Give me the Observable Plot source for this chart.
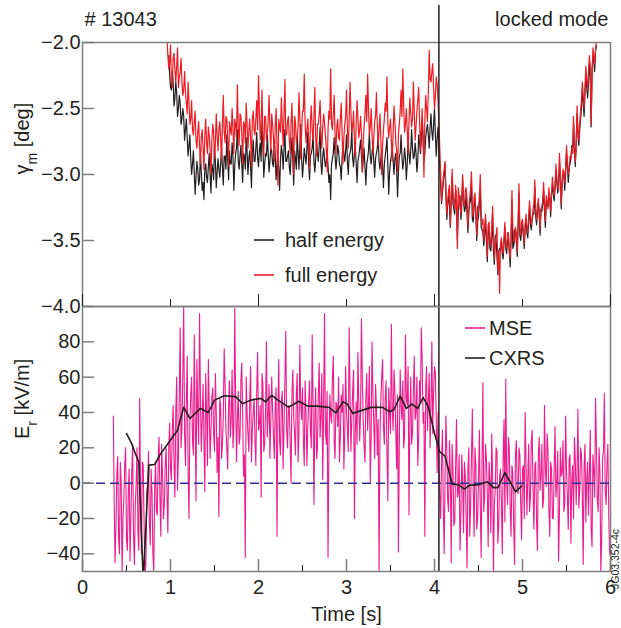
<!DOCTYPE html>
<html><head><meta charset="utf-8">
<script src="https://cdn.jsdelivr.net/npm/d3@7"></script>
<script src="https://cdn.jsdelivr.net/npm/@observablehq/plot@0.6"></script>
<style>
body{margin:0;background:#fff;}
#chart{position:relative;width:621px;height:628px;background:#fff;font-family:"Liberation Sans",Arial,Helvetica,sans-serif;color:#231f20;}
#chart svg{position:absolute;left:0;overflow:visible;}
</style></head><body><div id="chart"></div>
<script>
// ---- data ----
const shotLabel = "# 13043";
const modeLabel = "locked mode";
const lockTime = 4.05;

// gamma_m (deg), full-energy beam: samples at t = 0.96 + 0.02 i ...
const fullStart = 0.96, fullStep = 0.02;
const fullEnergy = [
 -1.96,-2.20,-2.02,-2.34,-2.08,-2.30,-2.04,-2.26,-2.12,-2.40,
 -2.22,-2.46,-2.30,-2.62,-2.44,-2.70,-2.52,-2.80,-2.60,-2.92,
 -2.66,-2.96,-2.58,-2.84,-2.70,-3.00,-2.62,-2.88,-2.54,-2.82,
 -2.60,-2.90,-2.40,-2.76,-2.58,-2.94,-2.66,-2.50,-2.84,-2.62,
 -2.32,-2.78,-2.56,-2.92,-2.62,-2.46,-2.80,-2.58,-2.94,-2.52,
 -2.70,-2.44,-2.25,-2.74,-2.36,-2.86,-2.56,-2.68,-2.40,-2.82,
 -2.62,-2.90,-2.50,-3.08,-2.64,-2.42,-2.78,-2.28,-2.70,-2.56,
 -2.84,-2.46,-3.00,-2.60,-2.72,-2.38,-2.88,-2.52,-2.24,-2.76,
 -2.58,-2.96,-2.48,-2.74,-2.34,-2.86,-2.62,-2.44,-2.80,-2.54,
 -2.70,-2.98,-2.52,-2.20,-2.66,-2.40,-2.84,-2.58,-2.74,-2.46,
 -2.92,-2.62,-2.36,-2.80,-2.30,-2.68,-2.52,-2.86,-2.44,-2.72,
 -2.56,-2.98,-2.64,-2.40,-2.24,-2.70,-2.50,-2.84,-2.60,-2.38,
 -2.78,-2.54,-3.00,-2.66,-2.46,-2.26,-2.72,-2.58,-2.90,-2.48,
 -2.76,-2.98,-2.62,-2.36,-2.20,-2.68,-2.50,-2.84,-2.42,-2.64,
 -2.30,-2.74,-2.52,-2.34,-2.82,-2.50,-3.02,-2.40,-2.60,-2.06,
 -2.30,-2.16,-2.50,-2.26,-2.44,-2.80,-3.20,-3.02,-2.90,-3.30,
 -3.12,-3.38,-2.96,-3.22,-3.08,-3.56,-3.16,-3.30,-3.00,-3.24,
 -3.10,-3.40,-3.18,-2.98,-3.32,-3.14,-3.46,-3.28,-3.00,-3.38,
 -3.50,-3.30,-3.62,-3.36,-3.54,-3.24,-3.64,-3.46,-3.72,-3.90,
 -3.48,-3.60,-3.36,-3.56,-3.44,-3.64,-3.12,-3.50,-3.40,-3.58,
 -3.07,-3.46,-3.34,-3.52,-3.30,-3.44,-3.20,-3.38,-3.26,-3.04,
 -3.34,-3.18,-3.42,-3.24,-3.06,-3.35,-3.20,-3.10,-3.28,-3.02,
 -3.16,-2.92,-3.10,-2.84,-3.22,-2.96,-3.06,-2.78,-3.00,-2.86,
 -2.80,-2.56,-2.90,-2.48,-2.74,-2.52,-2.30,-2.50,-2.18,-2.36,
 -2.10,-2.62,-2.04,-2.16,-1.98,-1.96
];
// ... and the samples in between, at t = 0.97 + 0.02 i
const fullStartB = 0.97;
const fullEnergyB = [
 -2.10,-2.16,-2.28,-2.12,-2.20,-2.18,-2.34,-2.22,-2.30,-2.36,
 -2.38,-2.54,-2.44,-2.58,-2.66,-2.60,-2.74,-2.68,-2.78,-2.72,
 -2.80,-2.70,-2.76,-2.64,-2.82,-2.74,-2.68,-2.76,-2.70,-2.66,
 -2.72,-2.62,-2.68,-2.56,-2.74,-2.60,-2.70,-2.66,-2.58,-2.72,
 -2.64,-2.54,-2.70,-2.60,-2.76,-2.62,-2.68,-2.72,-2.58,-2.66,
 -2.58,-2.66,-2.52,-2.62,-2.70,-2.56,-2.74,-2.60,-2.66,-2.54,
 -2.72,-2.64,-2.78,-2.58,-2.68,-2.62,-2.54,-2.70,-2.60,-2.74,
 -2.62,-2.70,-2.56,-2.76,-2.64,-2.58,-2.68,-2.52,-2.62,-2.66,
 -2.74,-2.60,-2.66,-2.56,-2.72,-2.62,-2.54,-2.70,-2.64,-2.60,
 -2.80,-2.66,-2.58,-2.62,-2.54,-2.70,-2.64,-2.72,-2.58,-2.68,
 -2.72,-2.56,-2.66,-2.60,-2.52,-2.64,-2.74,-2.62,-2.58,-2.66,
 -2.70,-2.76,-2.54,-2.60,-2.50,-2.64,-2.68,-2.72,-2.56,-2.62,
 -2.66,-2.72,-2.78,-2.58,-2.52,-2.62,-2.64,-2.74,-2.68,-2.60,
 -2.82,-2.70,-2.52,-2.56,-2.48,-2.62,-2.66,-2.60,-2.54,-2.58,
 -2.52,-2.64,-2.44,-2.58,-2.66,-2.72,-2.60,-2.50,-2.36,-2.28,
 -2.22,-2.36,-2.40,-2.32,-2.62,-3.00,-3.12,-2.96,-3.14,-3.20,
 -3.08,-3.20,-3.14,-3.26,-3.18,-3.10,-3.24,-3.16,-3.22,-3.12,
 -3.20,-3.26,-3.10,-3.22,-3.18,-3.30,-3.24,-3.16,-3.28,-3.34,
 -3.40,-3.46,-3.38,-3.50,-3.42,-3.48,-3.54,-3.40,-3.58,-3.52,
 -3.56,-3.48,-3.54,-3.44,-3.58,-3.46,-3.40,-3.52,-3.44,-3.36,
 -3.40,-3.36,-3.44,-3.38,-3.40,-3.32,-3.30,-3.34,-3.22,-3.28,
 -3.24,-3.30,-3.26,-3.20,-3.22,-3.16,-3.26,-3.18,-3.14,-3.10,
 -3.08,-3.02,-3.12,-2.98,-3.06,-3.00,-2.94,-2.90,-2.96,-2.88,
 -2.84,-2.76,-2.82,-2.66,-2.62,-2.44,-2.40,-2.34,-2.28,-2.22,
 -2.18,-2.30,-2.10,-2.06,-2.00
];

// gamma_m (deg), half-energy beam: samples at t = 0.98 + 0.02 i ...
const halfStart = 0.98, halfStep = 0.02;
const halfEnergy = [
 -2.10,-2.34,-2.22,-2.48,-2.30,-2.56,-2.40,-2.62,-2.50,-2.74,
 -2.58,-2.86,-2.70,-3.00,-2.82,-3.15,-2.90,-3.08,-2.84,-3.12,
 -3.19,-2.92,-3.06,-2.84,-3.14,-2.96,-2.78,-3.10,-2.88,-3.02,
 -2.80,-3.08,-2.86,-2.70,-3.04,-2.92,-2.76,-3.12,-2.84,-2.66,
 -2.96,-2.78,-3.06,-2.86,-2.72,-3.00,-2.82,-3.10,-2.74,-2.90,
 -2.68,-2.94,-2.76,-2.60,-3.02,-2.84,-2.70,-2.98,-2.80,-2.92,
 -2.74,-3.04,-2.86,-3.12,-2.78,-2.96,-2.66,-2.90,-2.82,-3.00,
 -2.72,-3.08,-2.88,-2.70,-2.96,-2.62,-3.02,-2.80,-2.92,-2.68,
 -3.04,-2.84,-2.70,-2.98,-2.76,-2.90,-2.64,-3.00,-2.80,-2.94,
 -2.82,-3.06,-3.19,-2.88,-2.72,-2.96,-2.78,-2.92,-3.04,-2.76,
 -2.90,-2.70,-3.00,-2.84,-2.66,-2.94,-2.78,-3.06,-2.86,-2.74,
 -2.98,-2.80,-3.08,-2.88,-2.68,-2.92,-2.76,-3.02,-2.84,-2.70,
 -2.96,-2.82,-3.10,-2.86,-2.72,-3.15,-2.90,-2.78,-3.00,-2.84,
 -3.17,-2.86,-2.70,-2.96,-2.80,-3.04,-2.74,-2.92,-2.66,-2.88,
 -2.76,-2.98,-2.70,-2.84,-2.58,-2.90,-2.72,-2.62,-2.80,-2.54,
 -2.74,-2.50,-2.86,-2.64,-2.92,-3.22,-3.06,-2.92,-3.34,-3.16,
 -3.40,-3.02,-3.26,-3.12,-3.50,-3.20,-3.34,-3.04,-3.28,-3.14,
 -3.44,-3.22,-3.06,-3.36,-3.18,-3.50,-3.32,-3.10,-3.42,-3.54,
 -3.34,-3.66,-3.40,-3.58,-3.30,-3.68,-3.50,-3.76,-3.56,-3.52,
 -3.64,-3.40,-3.60,-3.48,-3.70,-3.20,-3.54,-3.44,-3.62,-3.14,
 -3.50,-3.38,-3.56,-3.34,-3.48,-3.24,-3.42,-3.30,-3.10,-3.38,
 -3.22,-3.46,-3.28,-3.12,-3.40,-3.24,-3.16,-3.32,-3.08,-3.20,
 -2.98,-3.14,-2.90,-3.26,-3.00,-3.12,-2.84,-3.06,-2.92,-2.78,
 -2.62,-2.94,-2.54,-2.78,-2.58,-2.36,-2.56,-2.24,-2.42,-2.16,
 -2.64,-2.10,-2.22,-2.02
];
// ... and the samples in between, at t = 0.99 + 0.02 i
const halfStartB = 0.99;
const halfEnergyB = [
 -2.24,-2.36,-2.30,-2.42,-2.38,-2.50,-2.46,-2.58,-2.56,-2.66,
 -2.72,-2.78,-2.88,-2.92,-2.98,-3.02,-2.96,-3.04,-2.98,-3.06,
 -2.96,-3.02,-2.94,-3.00,-2.92,-3.04,-2.90,-2.98,-2.96,-2.92,
 -2.94,-2.86,-2.96,-2.88,-2.82,-2.92,-2.86,-2.94,-2.80,-2.90,
 -2.86,-2.92,-2.84,-2.96,-2.82,-2.88,-2.94,-2.84,-2.90,-2.80,
 -2.88,-2.82,-2.90,-2.78,-2.92,-2.86,-2.84,-2.90,-2.82,-2.94,
 -2.86,-2.92,-2.96,-2.88,-2.84,-2.80,-2.90,-2.86,-2.94,-2.84,
 -2.90,-2.82,-2.96,-2.84,-2.78,-2.88,-2.92,-2.86,-2.80,-2.92,
 -2.86,-2.80,-2.90,-2.88,-2.84,-2.78,-2.92,-2.86,-2.88,-2.90,
 -2.94,-3.00,-2.92,-2.84,-2.86,-2.88,-2.82,-2.94,-2.88,-2.84,
 -2.82,-2.90,-2.86,-2.80,-2.88,-2.84,-2.92,-2.90,-2.80,-2.86,
 -2.90,-2.94,-2.92,-2.82,-2.86,-2.84,-2.90,-2.88,-2.80,-2.90,
 -2.88,-2.94,-2.92,-2.80,-2.94,-2.98,-2.86,-2.90,-2.88,-2.96,
 -2.98,-2.84,-2.86,-2.90,-2.88,-2.92,-2.84,-2.82,-2.80,-2.86,
 -2.84,-2.90,-2.76,-2.74,-2.72,-2.84,-2.66,-2.70,-2.64,-2.68,
 -2.62,-2.70,-2.72,-2.80,-3.08,-3.14,-3.00,-3.16,-3.22,-3.24,
 -3.18,-3.22,-3.30,-3.20,-3.28,-3.16,-3.24,-3.20,-3.26,-3.30,
 -3.28,-3.20,-3.34,-3.24,-3.30,-3.36,-3.22,-3.40,-3.44,-3.46,
 -3.50,-3.44,-3.56,-3.48,-3.58,-3.46,-3.62,-3.58,-3.56,-3.60,
 -3.52,-3.56,-3.50,-3.58,-3.48,-3.56,-3.42,-3.50,-3.40,-3.46,
 -3.42,-3.46,-3.40,-3.44,-3.36,-3.38,-3.34,-3.30,-3.32,-3.28,
 -3.30,-3.26,-3.22,-3.28,-3.20,-3.24,-3.18,-3.14,-3.16,-3.10,
 -3.06,-3.10,-3.02,-3.08,-2.98,-3.00,-2.92,-2.96,-2.88,-2.84,
 -2.80,-2.74,-2.70,-2.66,-2.50,-2.46,-2.38,-2.34,-2.30,-2.26,
 -2.20,-2.14,-2.06
];

// E_r (kV/m) from MSE: samples at t = 0.35 + 0.02 i ...
const mseStart = 0.35, mseStep = 0.02;
const mseEr = [
 38,-45,5,-30,12,-50,-8,20,-38,8,
 -20,22,-46,0,-28,48,-40,10,-52,-5,
 18,-35,-6,-50,12,-18,26,-30,4,-12,
 20,-28,34,2,44,-8,60,16,88,30,
 100,10,72,-20,50,24,84,-10,42,96,
 18,56,-5,40,70,14,48,28,62,6,
 -19,44,22,76,30,8,58,36,20,99,
 12,52,26,68,4,-42,40,18,66,30,
 48,10,74,34,-8,56,22,80,38,14,
 60,26,44,-30,70,16,52,32,86,20,
 42,0,64,28,50,12,78,36,24,58,
 10,46,30,84,-12,54,20,68,38,2,
 96,22,-42,50,34,72,14,44,60,26,
 40,8,66,30,88,18,52,-20,46,74,
 24,93,36,12,62,44,0,80,34,56,
 16,-50,48,70,22,58,-10,40,90,30,
 52,8,-39,64,36,20,84,44,-18,60,
 28,72,40,10,58,88,34,-30,66,46,
 20,80,52,62,6,12,-20,30,-40,38,
 -10,24,-45,8,-22,36,-6,-38,16,-28,
 4,-48,20,-14,42,-30,10,-20,30,-42,
 57,-8,14,-36,2,28,-50,-4,18,-24,
 8,-40,36,59,-12,20,-30,6,-46,24,
 -6,16,-32,10,40,-18,22,-8,30,-26,
 12,-38,26,4,-14,44,-2,18,-30,8,
 -20,32,0,-44,20,6,-16,38,-8,14,
 -34,10,26,-12,42,-4,16,-46,22,2,
 -18,30,-36,8,48,-10,20,-50,14,51,
 -12,22,-40
];
// ... and the samples in between, at t = 0.36 + 0.02 i
const mseStartB = 0.36;
const mseErB = [
 -10,-25,15,-40,0,-20,10,-32,-5,-44,
 6,-30,-12,20,-38,-8,12,-24,-46,0,
 -22,8,-40,-4,-16,14,-8,22,-20,10,
 -6,18,8,30,12,40,-4,52,20,62,
 28,46,6,34,60,16,38,70,22,50,
 36,24,62,10,44,30,54,18,40,26,
 48,14,38,56,20,42,26,64,32,50,
 36,22,58,40,16,60,28,46,12,40,
 24,52,30,44,62,18,40,26,56,36,
 42,14,54,34,24,46,8,58,30,44,
 22,50,38,16,62,28,44,54,10,40,
 32,58,20,46,36,14,50,26,62,42,
 30,52,18,38,60,24,46,32,12,50,
 56,28,42,18,52,36,64,30,22,46,
 40,58,20,48,30,66,26,52,14,44,
 36,24,60,32,48,16,54,28,42,64,
 30,50,20,44,58,26,48,66,34,22,
 52,36,60,24,46,70,40,54,30,62,
 44,28,66,36,40,-6,14,-14,4,18,
 -16,6,22,-24,10,-8,16,-18,2,12,
 -20,8,-30,14,-4,20,-26,0,-12,10,
 -16,22,-6,12,-28,6,-12,20,-34,4,
 -10,14,-22,2,26,-14,10,-24,16,-4,
 20,-12,8,-20,14,2,-16,24,-6,10,
 -22,16,-4,22,-10,8,28,-14,12,-20,
 10,-8,18,-16,4,24,-12,8,-26,16,
 2,-20,14,6,-14,20,-6,10,-22,12,
 4,-26,16,-8,22,-16,6,-32,18,-4,
 10,-18
];

// E_r (kV/m) from CXRS
const cxrsTime = [0.50,0.55,0.60,0.64,0.69,0.755,0.82,0.88,1.00,1.08,
 1.15,1.22,1.34,1.43,1.50,1.61,1.74,1.82,1.91,2.03,
 2.08,2.15,2.25,2.34,2.46,2.56,2.67,2.80,2.88,2.96,
 3.01,3.07,3.28,3.41,3.49,3.54,3.61,3.68,3.74,3.81,
 3.87,3.93,4.00,4.06,4.12,4.20,4.27,4.34,4.40,4.51,
 4.60,4.67,4.72,4.80,4.86,4.92,4.99];
const cxrsEr = [28,23.4,16.8,12,-55,10.2,10.6,16,24.4,30,
 43,36.6,42.3,40,47,49.5,49,45,47,48,
 46,49.7,46,43,46.4,43.6,43.6,42.9,39.8,46,
 44.8,39.5,42.9,42.9,40.4,41.7,49.3,42.3,44.8,42.3,
 48.5,43.2,28.1,17.7,15.3,-0.6,-0.8,-3.4,-1.1,-0.8,
 0.8,-2.5,-2.5,5.9,0.8,-4.9,-1.7];

const gammaTicks = [-2.0,-2.5,-3.0,-3.5,-4.0];
const erTicks = [80,60,40,20,0,-20,-40];
const timeTicks = [0,1,2,3,4,5,6];
const timeMinorTicks = [0.5,1.5,2.5,3.5,4.5,5.5];
const topLongTicks = [0,2,4,6];
const topShortTicks = [1,3,5];
const gammaTitle = "γm [deg]";
const erTitle = "Er [kV/m]";
const timeTitle = "Time [s]";
const legendTop = [["half energy","#231f20"],["full energy","#ed1c24"]];
const legendBottom = [["MSE","#ec1c8c"],["CXRS","#231f20"]];
const figCode = "JG03.352-4c";

// ---- build ----
function series(a, startA, b, startB, step) {
  const rows = a.map((v,i)=>({t: startA + i*step, v}))
    .concat(b.map((v,i)=>({t: startB + i*step, v})));
  return rows.sort((p,q)=>p.t-q.t);
}
const fullData = series(fullEnergy, fullStart, fullEnergyB, fullStartB, fullStep);
const halfData = series(halfEnergy, halfStart, halfEnergyB, halfStartB, halfStep);
const mseData = series(mseEr, mseStart, mseErB, mseStartB, mseStep);
const cxrsData = cxrsTime.map((t,i)=>({t, v: cxrsEr[i]}));

const ink = "#231f20", gray = "#7d7d7d";
const font = '"Liberation Sans", Arial, Helvetica, sans-serif';
const common = {width: 621, marginLeft: 82, marginRight: 11,
  style: {background: "transparent", fontFamily: font, fontSize: "20px", color: ink, overflow: "visible"}};

const topPlot = Plot.plot({
  ...common, height: 306, marginTop: 42, marginBottom: 0,
  x: {domain: [0, 6]},
  y: {domain: [-4, -2], label: null},
  marks: [
    Plot.lineY(halfData, {x: "t", y: "v", stroke: ink, strokeWidth: 1.2, clip: true}),
    Plot.lineY(fullData, {x: "t", y: "v", stroke: "#ed1c24", strokeWidth: 1.2, clip: true}),
    Plot.frame({stroke: gray, strokeWidth: 1.5}),
    Plot.axisY(gammaTicks, {tickSize: -12, tickPadding: 14, tickFormat: d3.format(".1f"), stroke: gray, strokeWidth: 1.5, fill: ink, fontSize: 20, label: null}),
    Plot.axisX(topLongTicks, {tickSize: -12, tickFormat: () => "", stroke: ink, strokeWidth: 1, label: null}),
    Plot.axisX(topShortTicks, {tickSize: -7, tickFormat: () => "", stroke: ink, strokeWidth: 1, label: null}),
    Plot.ruleX([lockTime], {stroke: ink, strokeWidth: 1.5, insetTop: -37}),
    Plot.text([gammaTitle], {frameAnchor: "left", dx: -60, rotate: -90, fontSize: 20, fill: ink}),
    Plot.text([shotLabel], {frameAnchor: "top-left", textAnchor: "start", dx: 2, dy: -31, fontSize: 20, fill: ink}),
    Plot.text([modeLabel], {frameAnchor: "top-right", textAnchor: "end", dx: -2, dy: -31, fontSize: 20, fill: ink})
  ]
});
topPlot.style.top = "0px";

const botPlot = Plot.plot({
  ...common, height: 322, marginTop: 0, marginBottom: 57,
  x: {domain: [0, 6], label: null},
  y: {domain: [-50, 100], label: null},
  marks: [
    Plot.lineY(mseData, {x: "t", y: "v", stroke: "#ec1c8c", strokeWidth: 1.1, clip: true}),
    Plot.ruleY([0], {stroke: "#2e3192", strokeWidth: 1.5, strokeDasharray: "9,5"}),
    Plot.line(cxrsData, {x: "t", y: "v", stroke: ink, strokeWidth: 1.6, clip: true}),
    Plot.ruleX([lockTime], {stroke: ink, strokeWidth: 1.5}),
    Plot.frame({stroke: gray, strokeWidth: 1.5}),
    Plot.axisY(erTicks, {tickSize: -12, tickPadding: 14, stroke: gray, strokeWidth: 1.5, fill: ink, fontSize: 20, label: null}),
    Plot.axisX(timeTicks, {tickSize: -12, tickPadding: 20, tickFormat: d => String(d), stroke: gray, strokeWidth: 1.5, fill: ink, fontSize: 20, label: null}),
    Plot.axisX(timeMinorTicks, {tickSize: -6, tickFormat: () => "", stroke: ink, strokeWidth: 1, label: null}),
    Plot.text([timeTitle], {frameAnchor: "bottom", dy: 49, fontSize: 20, fill: ink}),
    Plot.text([erTitle], {frameAnchor: "left", dx: -60, rotate: -90, fontSize: 20, fill: ink})
  ]
});
botPlot.style.top = "306px";

const chart = document.getElementById("chart");
chart.appendChild(botPlot);
chart.appendChild(topPlot);

// subscripts in the axis titles
function subscript(svg, full, base, sub, rest) {
  svg.querySelectorAll("text").forEach(t => {
    if (t.textContent === full) {
      t.textContent = "";
      const ns = "http://www.w3.org/2000/svg";
      const a = document.createElementNS(ns, "tspan"); a.textContent = base;
      const b = document.createElementNS(ns, "tspan"); b.textContent = sub;
      b.setAttribute("baseline-shift", "sub"); b.setAttribute("font-size", "14");
      const c = document.createElementNS(ns, "tspan"); c.textContent = rest;
      t.append(a, b, c);
    }
  });
}
subscript(topPlot, gammaTitle, "γ", "m", " [deg]");
subscript(botPlot, erTitle, "E", "r", " [kV/m]");

// legends & figure code overlay
const ns = "http://www.w3.org/2000/svg";
const ov = document.createElementNS(ns, "svg");
ov.setAttribute("width", 621); ov.setAttribute("height", 628);
ov.style.top = "0px"; ov.style.pointerEvents = "none";
ov.setAttribute("font-family", font);
function legendRows(rows, x0, y0, gap, tx) {
  rows.forEach(([label, color], i) => {
    const y = y0 + i * gap;
    const l = document.createElementNS(ns, "line");
    l.setAttribute("x1", x0); l.setAttribute("x2", x0 + 20);
    l.setAttribute("y1", y); l.setAttribute("y2", y);
    l.setAttribute("stroke", color); l.setAttribute("stroke-width", 1.6);
    const t = document.createElementNS(ns, "text");
    t.setAttribute("x", x0 + tx); t.setAttribute("y", y + 7);
    t.setAttribute("font-size", 20); t.setAttribute("fill", ink);
    t.textContent = label;
    ov.append(l, t);
  });
}
legendRows(legendTop, 254, 240, 35, 31);
legendRows(legendBottom, 465, 328, 30, 24);
const code = document.createElementNS(ns, "text");
code.setAttribute("transform", "translate(618.5,589) rotate(-90)");
code.setAttribute("font-size", 10.5); code.setAttribute("fill", ink);
code.textContent = figCode;
ov.append(code);
chart.appendChild(ov);
</script></body></html>
